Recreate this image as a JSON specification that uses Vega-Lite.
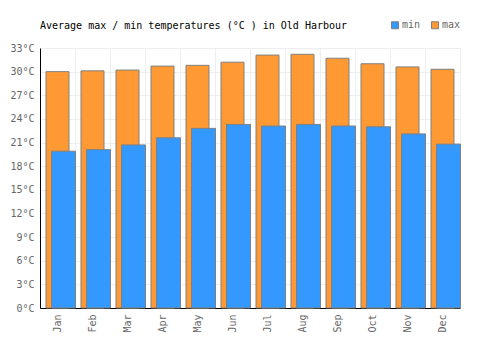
{
  "$schema": "https://vega.github.io/schema/vega-lite/v6.json",
  "width": 420,
  "height": 260,
  "autosize": {"type": "none"},
  "padding": {"left": 40, "top": 48, "right": 40, "bottom": 42},
  "background": "white",
  "title": {
    "text": "Average max / min temperatures (°C ) in Old Harbour",
    "anchor": "start",
    "frame": "group",
    "font": "DejaVu Sans Mono",
    "fontSize": 10,
    "fontWeight": "normal",
    "color": "#000000",
    "offset": 18,
    "dy": 29
  },
  "config": {
    "view": {"stroke": "#eeeeee"},
    "font": "DejaVu Sans Mono"
  },
  "data": {
    "values": [
      {"month": "Jan", "type": "max", "temp": 30.0},
      {"month": "Feb", "type": "max", "temp": 30.1},
      {"month": "Mar", "type": "max", "temp": 30.2},
      {"month": "Apr", "type": "max", "temp": 30.7},
      {"month": "May", "type": "max", "temp": 30.8},
      {"month": "Jun", "type": "max", "temp": 31.2},
      {"month": "Jul", "type": "max", "temp": 32.1},
      {"month": "Aug", "type": "max", "temp": 32.2},
      {"month": "Sep", "type": "max", "temp": 31.7},
      {"month": "Oct", "type": "max", "temp": 31.0},
      {"month": "Nov", "type": "max", "temp": 30.6},
      {"month": "Dec", "type": "max", "temp": 30.3},
      {"month": "Jan", "type": "min", "temp": 19.9},
      {"month": "Feb", "type": "min", "temp": 20.1},
      {"month": "Mar", "type": "min", "temp": 20.7},
      {"month": "Apr", "type": "min", "temp": 21.6},
      {"month": "May", "type": "min", "temp": 22.8},
      {"month": "Jun", "type": "min", "temp": 23.3},
      {"month": "Jul", "type": "min", "temp": 23.1},
      {"month": "Aug", "type": "min", "temp": 23.3},
      {"month": "Sep", "type": "min", "temp": 23.1},
      {"month": "Oct", "type": "min", "temp": 23.0},
      {"month": "Nov", "type": "min", "temp": 22.1},
      {"month": "Dec", "type": "min", "temp": 20.8}
    ]
  },
  "encoding": {
    "x": {
      "field": "month",
      "type": "nominal",
      "sort": ["Jan","Feb","Mar","Apr","May","Jun","Jul","Aug","Sep","Oct","Nov","Dec"],
      "scale": {"paddingInner": 0, "paddingOuter": 0},
      "axis": {
        "title": null,
        "labelAngle": -90,
        "ticks": false,
        "labelPadding": 6,
        "labelFont": "DejaVu Sans Mono",
        "labelFontSize": 10,
        "labelColor": "#666666",
        "domainColor": "#000000",
        "grid": true,
        "gridColor": "#eeeeee",
        "bandPosition": 0
      }
    },
    "y": {
      "field": "temp",
      "type": "quantitative",
      "scale": {"domain": [0, 33], "nice": false},
      "axis": {
        "title": null,
        "values": [0,3,6,9,12,15,18,21,24,27,30,33],
        "labelExpr": "datum.value + '°C'",
        "ticks": false,
        "labelPadding": 6,
        "labelFont": "DejaVu Sans Mono",
        "labelFontSize": 10,
        "labelColor": "#666666",
        "domainColor": "#000000",
        "gridColor": "#eeeeee"
      }
    },
    "color": {
      "field": "type",
      "type": "nominal",
      "scale": {"domain": ["min", "max"], "range": ["#3399ff", "#ff9933"]},
      "legend": {
        "title": null,
        "orient": "none",
        "legendX": 350,
        "legendY": -28,
        "direction": "horizontal",
        "symbolType": "square",
        "symbolSize": 49,
        "symbolStrokeColor": "#808080",
        "symbolStrokeWidth": 1,
        "labelFont": "DejaVu Sans Mono",
        "labelFontSize": 10,
        "labelColor": "#666666",
        "columnPadding": 8,
        "labelOffset": 2
      }
    }
  },
  "layer": [
    {
      "transform": [{"filter": "datum.type == 'max'"}],
      "mark": {"type": "bar", "width": 23, "xOffset": 0, "stroke": "#808080", "strokeWidth": 1}
    },
    {
      "transform": [{"filter": "datum.type == 'min'"}],
      "mark": {"type": "bar", "width": 24, "xOffset": 6, "stroke": "#808080", "strokeWidth": 1}
    }
  ]
}
